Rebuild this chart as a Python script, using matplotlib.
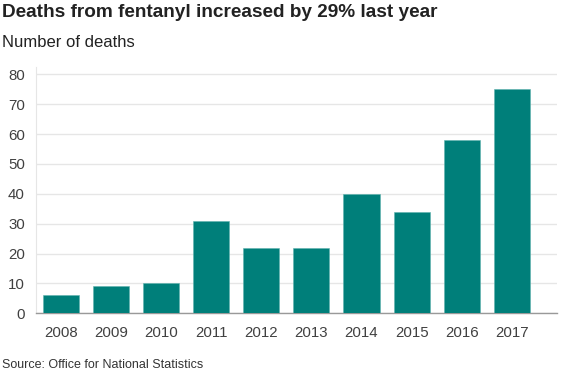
import matplotlib
matplotlib.use("Agg")
import matplotlib.pyplot as plt

# Данные
years = ['2008', '2009', '2010', '2011', '2012', '2013', '2014', '2015', '2016', '2017']
deaths = [6, 9, 10, 31, 22, 22, 40, 34, 58, 75]
y_ticks = [0, 10, 20, 30, 40, 50, 60, 70, 80]

plt.rcParams['font.family'] = ['Liberation Sans', 'DejaVu Sans']

fig = plt.figure(figsize=(5.68, 3.71), dpi=100)
ax = fig.add_axes([0.0634, 0.1555, 0.9166, 0.6645])

x = range(len(years))
ax.bar(x, deaths, width=0.72, color='#007f7a', edgecolor='#5fb3ae', linewidth=0.4, zorder=3)

ax.set_xlim(-0.49, 9.89)
ax.set_ylim(0, 82.5)
ax.set_yticks(y_ticks)
ax.set_xticks(list(x))
ax.set_xticklabels(years)

ax.grid(axis='y', color='#e6e6e6', linewidth=1, zorder=0)
for s in ['top', 'right']:
    ax.spines[s].set_visible(False)
ax.spines['left'].set_color('#e6e6e6')
ax.spines['bottom'].set_color('#999999')
ax.spines['bottom'].set_linewidth(1)
ax.tick_params(axis='both', colors='#404040', labelsize=10.8, length=0)
ax.tick_params(axis='x', pad=9)
ax.tick_params(axis='y', pad=8)

# Заголовки
fig.text(0.004, 0.965, 'Deaths from fentanyl increased by 29% last year',
         fontsize=13.7, fontweight='bold', color='#222222', va='center', ha='left')
fig.text(0.004, 0.885, 'Number of deaths', fontsize=12, color='#222222',
         va='center', ha='left')
fig.text(0.004, 0.016, 'Source: Office for National Statistics', fontsize=9,
         color='#333333', va='center', ha='left')

plt.savefig('out.png', dpi=100)
